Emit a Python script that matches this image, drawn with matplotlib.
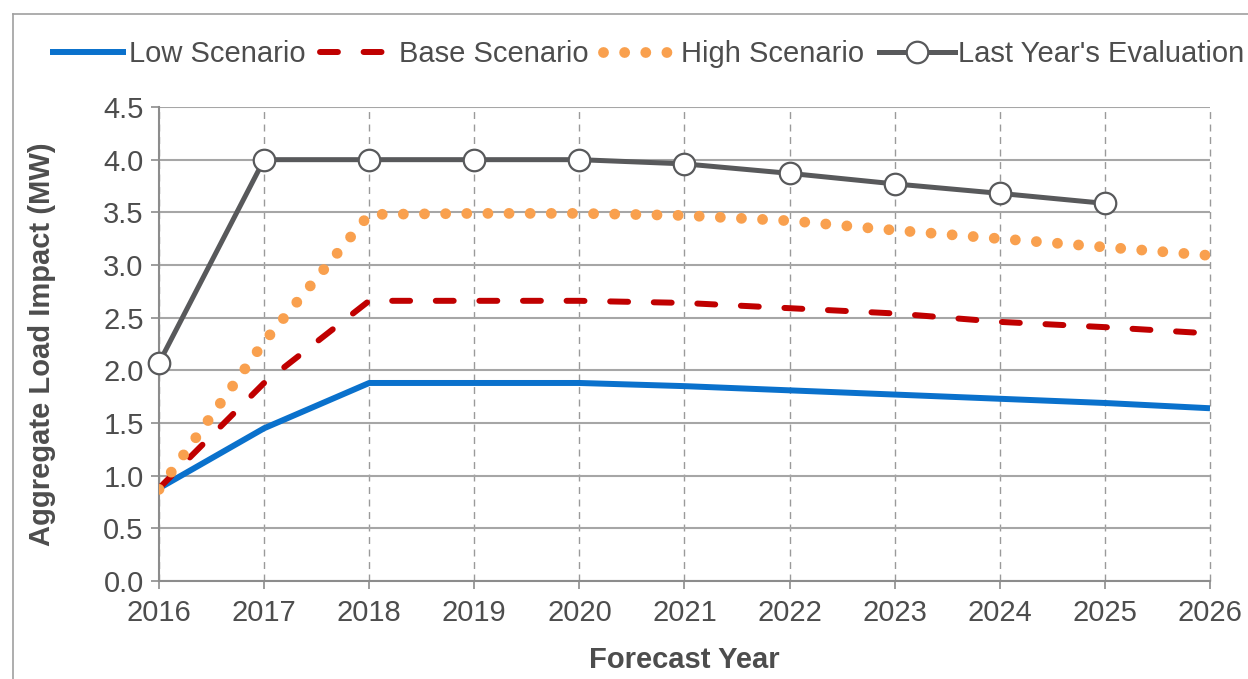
import matplotlib.pyplot as plt
from matplotlib.lines import Line2D

plt.rcParams['font.family'] = ['Liberation Sans', 'DejaVu Sans']

years = [2016, 2017, 2018, 2019, 2020, 2021, 2022, 2023, 2024, 2025, 2026]
low = [0.88, 1.45, 1.88, 1.88, 1.88, 1.85, 1.81, 1.77, 1.73, 1.69, 1.64]
base = [0.88, 1.88, 2.66, 2.66, 2.66, 2.64, 2.59, 2.54, 2.46, 2.41, 2.35]
high = [0.87, 2.27, 3.48, 3.49, 3.49, 3.47, 3.42, 3.33, 3.25, 3.17, 3.09]
last_years = [2016, 2017, 2018, 2019, 2020, 2021, 2022, 2023, 2024, 2025]
last_eval = [2.07, 4.00, 4.00, 4.00, 4.00, 3.96, 3.87, 3.77, 3.68, 3.585]
y_ticks = [0.0, 0.5, 1.0, 1.5, 2.0, 2.5, 3.0, 3.5, 4.0, 4.5]

BLUE = '#0a71cc'
RED = '#c00000'
ORANGE = '#f9a04e'
GRAY = '#58595b'
GRID = '#a6a6a6'
TEXT = '#4d4d4d'
FS = 21

fig = plt.figure(figsize=(12.48, 6.79), dpi=100)
ax = fig.add_axes([159 / 1248, 1 - 581 / 679, (1210 - 159) / 1248, (581 - 107) / 679])

# chart area border (top and left edges visible)
fig.add_artist(Line2D([13 / 1248, 1.0], [1 - 14 / 679, 1 - 14 / 679],
                      transform=fig.transFigure, color='#a0a0a0', lw=1.2))
fig.add_artist(Line2D([13 / 1248, 13 / 1248], [0.0, 1 - 14 / 679],
                      transform=fig.transFigure, color='#a0a0a0', lw=1.2))

ax.plot(years, low, color=BLUE, lw=4.3, solid_capstyle='butt',
        label='Low Scenario', zorder=3)
ax.plot(years, base, color=RED, lw=4.3, linestyle=(0, (3.0, 4.3)),
        dash_capstyle='round', label='Base Scenario', zorder=3)
ax.plot(years, high, color=ORANGE, lw=7.8, linestyle=(0, (0.001, 1.95)),
        dash_capstyle='round', label='High Scenario', zorder=3)
ax.plot(last_years, last_eval, color=GRAY, lw=3.6, marker='o', markersize=15.5,
        markerfacecolor='white', markeredgecolor=GRAY, markeredgewidth=1.6,
        label="Last Year's Evaluation", zorder=4, clip_on=False)

ax.set_xlim(2016, 2026)
ax.set_ylim(0, 4.5)
ax.set_xticks(years)
ax.set_yticks(y_ticks)
ax.set_yticklabels([f'{v:.1f}' for v in y_ticks])

ax.grid(axis='y', color=GRID, lw=1.5, linestyle='-', zorder=1)
ax.grid(axis='x', color='#9a9a9a', lw=1.0, linestyle=(0, (5, 4)), zorder=1)
ax.set_axisbelow(True)
for gl in ax.get_xgridlines():
    gl.set_clip_on(False)

for side in ['top', 'right']:
    ax.spines[side].set_visible(False)
for side in ['left', 'bottom']:
    ax.spines[side].set_color('#8c8c8c')
    ax.spines[side].set_linewidth(1.5)

ax.tick_params(axis='both', colors='#8c8c8c', labelcolor=TEXT, labelsize=FS,
               length=6, width=1.2, direction='out')
ax.tick_params(axis='x', pad=7)
ax.tick_params(axis='y', pad=5)

ax.set_xlabel('Forecast Year', fontsize=FS, fontweight='bold', color=TEXT, labelpad=14)
ax.set_ylabel('Aggregate Load Impact (MW)', fontsize=FS, fontweight='bold',
              color=TEXT, labelpad=34)

fig.legend(loc='center', bbox_to_anchor=(647 / 1248, 1 - 54 / 679), ncol=4, frameon=False,
           fontsize=FS, labelcolor=TEXT, handlelength=2.6, handletextpad=0.1,
           columnspacing=0.5, borderaxespad=0)

fig.savefig('out.png', dpi=100)
